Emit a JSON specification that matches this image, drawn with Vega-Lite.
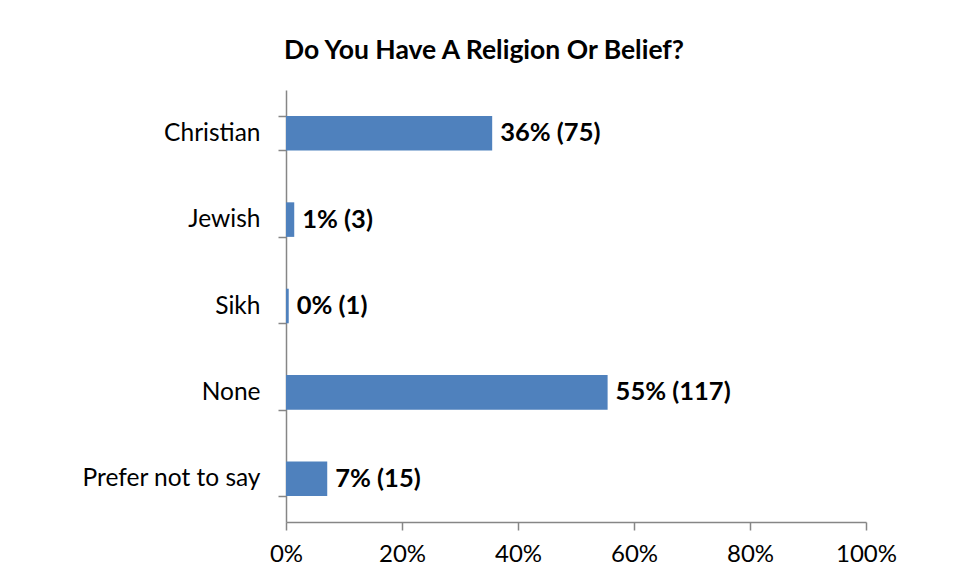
{
  "$schema": "https://vega.github.io/schema/vega-lite/v6.json",
  "width": 580,
  "height": 432,
  "autosize": {"type": "none"},
  "padding": {"left": 286, "top": 90, "right": 89, "bottom": 59},
  "background": "white",
  "title": {
    "text": "Do You Have A Religion Or Belief?",
    "anchor": "middle",
    "dx": -92,
    "offset": 13,
    "fontSize": 26.5,
    "fontWeight": "bold",
    "font": "Lato",
    "color": "#000000"
  },
  "data": {
    "values": [
      {"religion": "Christian", "share": 0.3555, "label": "36% (75)"},
      {"religion": "Jewish", "share": 0.0142, "label": "1% (3)"},
      {"religion": "Sikh", "share": 0.0047, "label": "0% (1)"},
      {"religion": "None", "share": 0.5545, "label": "55% (117)"},
      {"religion": "Prefer not to say", "share": 0.0711, "label": "7% (15)"}
    ]
  },
  "encoding": {
    "y": {
      "field": "religion",
      "type": "nominal",
      "sort": null,
      "title": null,
      "scale": {"paddingInner": 0.6, "paddingOuter": 0.3},
      "axis": {
        "domainColor": "#868686",
        "domainWidth": 1.5,
        "tickColor": "#868686",
        "tickWidth": 1.5,
        "tickSize": 8,
        "tickBand": "extent",
        "labelPadding": 18,
        "labelFontSize": 24.5,
        "labelFont": "Lato",
        "labelColor": "#000000"
      }
    }
  },
  "layer": [
    {
      "mark": {"type": "bar", "color": "#4F81BD"},
      "encoding": {
        "x": {
          "field": "share",
          "type": "quantitative",
          "title": null,
          "scale": {"domain": [0, 1], "nice": false},
          "axis": {
            "format": ".0%",
            "values": [0, 0.2, 0.4, 0.6, 0.8, 1],
            "grid": false,
            "domainColor": "#868686",
            "domainWidth": 1.5,
            "tickColor": "#868686",
            "tickWidth": 1.5,
            "tickSize": 8,
            "labelPadding": 12,
            "labelFontSize": 24,
            "labelFont": "Lato",
            "labelColor": "#000000",
            "labelFlush": false
          }
        }
      }
    },
    {
      "mark": {"type": "text", "align": "left", "baseline": "middle", "dx": 8, "fontSize": 25.5, "fontWeight": "bold", "font": "Lato", "color": "#000000"},
      "encoding": {
        "x": {"field": "share", "type": "quantitative"},
        "text": {"field": "label"}
      }
    }
  ],
  "config": {"view": {"stroke": null}}
}
